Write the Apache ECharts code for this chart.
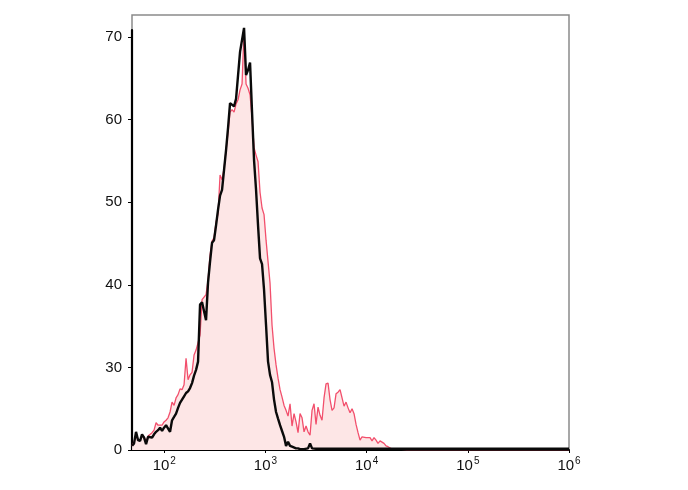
<!DOCTYPE html>
<html>
<head>
<meta charset="utf-8">
<script src="https://cdn.jsdelivr.net/npm/echarts@6/dist/echarts.min.js"></script>
<style>
html,body{margin:0;padding:0;background:#fff;}
#chart{width:688px;height:490px;}
</style>
</head>
<body>
<div id="chart"></div>
<script>
// Fluorescence intensity (log scale) bin positions
var xValues = [48.1,50.3,52.6,55.1,57.7,60.3,63.2,66.1,69.2,72.4,75.8,79.3,83.0,86.9,90.9,95.1,99.5,104.2,109.0,114.1,
  119.4,125.0,130.8,136.9,143.2,149.9,156.9,164.2,171.9,179.8,188.2,197.0,206.2,215.8,225.8,236.4,247.4,258.8,270.9,283.5,
  296.7,310.5,325.0,340.1,356.0,372.5,389.9,408.0,427.0,446.9,467.7,489.5,512.3,536.1,561.1,587.2,614.5,643.1,673.1,704.4,
  737.2,771.5,807.4,845.0,884.3,925.5,968.6,1014,1061,1110,1162,1216,1273,1332,1394,1459,1527,1598,1672,1750,
  1832,1917,2006,2100,2198,2300,2407,2519,2636,2759,2888,3022,3162,3310,3464,3625,3794,3971,4156,4349,
  4552,4764,4985,5218,5461,5715,5981,6259,6551,6856,7175,7509,7859,8225,8608,9009,9426,9865,10324,10805,
  11308,11834,12385,12960,13564,14195,14855,15547,16271,17028,17822,18651,19519,
  25000,50000,100000,200000,500000,1000000];

// Control (black outline) counts, in axis units
var controlCounts = [20.5,20.8,22.2,21.2,21.1,21.9,21.5,20.7,21.6,21.7,21.5,21.9,22.2,22.4,22.7,22.3,22.7,23.0,22.8,22.2,
  23.6,24.0,24.4,25.1,25.7,26.1,26.5,26.9,27.1,27.5,28.1,29.0,29.7,30.7,37.6,37.9,37.8,35.7,40.3,42.8,
  45.1,45.4,47.2,49.1,50.8,51.5,53.9,56.3,59.0,62.0,62.1,61.6,62.5,62.7,68.2,68.1,71.1,65.4,66.0,66.9,
  60.9,55.1,51.5,47.2,43.2,42.5,39.4,35.1,30.7,29.1,28.2,26.1,24.6,23.8,23.0,22.3,21.6,20.5,21.0,20.5,
  20.4,20.2,20.2,20.2,20.1,20.2,20.1,20.2,20.2,20.8,20.2,20.15,20.15,20.15,20.15,20.15,20.15,20.15,20.15,20.15,
  20.15,20.15,20.15,20.15,20.15,20.15,20.15,20.15,20.15,20.15,20.15,20.15,20.15,20.15,20.15,20.15,20.15,20.15,20.15,20.15,
  20.15,20.15,20.15,20.15,20.15,20.15,20.15,20.15,20.15,20.15,20.15,20.15,20.15,
  20.15,20.15,20.15,20.15,20.15,20.15];

// Stained sample (red, filled) counts, in axis units
var sampleCounts = [20.5,21.0,21.8,21.2,21.2,21.7,21.6,21.0,21.7,21.9,22.1,22.4,23.3,23.0,23.1,23.0,23.4,23.6,23.9,24.6,
  25.8,25.4,26.3,26.7,27.4,27.3,27.9,31.1,28.5,29.1,29.4,31.5,32.1,31.9,33.9,38.2,38.2,38.8,40.6,43.6,
  45.3,45.7,47.6,48.6,53.3,52.7,54.1,56.3,58.5,60.9,61.2,60.9,61.9,62.4,63.6,64.3,70.8,64.3,63.8,63.0,
  60.2,56.6,55.7,54.9,51.2,49.3,48.5,45.4,42.8,40.2,35.1,32.3,30.3,28.7,27.3,26.4,25.4,24.8,24.1,25.6,
  22.9,24.4,23.4,22.1,24.4,23.9,22.2,22.9,22.2,21.8,24.8,25.6,23.1,25.2,24.2,23.6,26.3,28.0,28.1,26.1,
  24.8,25.1,26.8,27.0,27.3,26.3,25.3,25.8,25.1,24.5,25.0,24.4,23.1,22.1,21.2,21.6,21.6,21.5,21.6,21.5,
  21.1,21.5,21.2,20.8,21.1,21.3,20.8,20.5,20.4,20.2,20.1,20.1,20.1,
  20.05,20.05,20.05,20.05,20.05,20.05];

var yTickValues = [20, 30, 40, 50, 60, 70];
var yTickLabels = ['0', '30', '40', '50', '60', '70'];

function pairs(xs, ys) {
  var out = [];
  for (var i = 0; i < xs.length; i++) out.push([xs[i], ys[i]]);
  return out;
}

var chart = echarts.init(document.getElementById('chart'), null, {renderer: 'canvas'});
var font = '"Liberation Sans", Arial, sans-serif';

chart.setOption({
  animation: false,
  backgroundColor: '#ffffff',
  grid: [
    {left: 132, right: 119, top: 15, bottom: 40, show: true, borderColor: '#8a8a8a', borderWidth: 1.5, backgroundColor: 'transparent'},
    {left: 132, right: 119, top: 30, bottom: 40, show: false}
  ],
  xAxis: [
    {
      type: 'log', logBase: 10, min: 48, max: 1000000, gridIndex: 0,
      axisLine: {show: true, lineStyle: {color: '#000', width: 2}},
      axisTick: {show: true, length: 3, lineStyle: {color: '#000'}},
      minorTick: {show: false},
      splitLine: {show: false},
      axisLabel: {
        show: true, margin: 6, showMinLabel: false, color: '#111', fontFamily: font, fontSize: 15,
        formatter: function (v) {
          var e = Math.round(Math.log10(v));
          if (Math.abs(v - Math.pow(10, e)) / v > 0.01) return '';
          return '{b|10}{s|' + e + '}';
        },
        rich: {
          b: {fontSize: 15, fontFamily: font, color: '#111'},
          s: {fontSize: 10, fontFamily: font, color: '#111', padding: [0, 0, 10, 1]}
        }
      }
    },
    {type: 'value', gridIndex: 1, show: false, min: 0, max: 1}
  ],
  yAxis: [
    {
      type: 'value', gridIndex: 0, min: 20, max: 72.66, interval: 10,
      axisLine: {show: false},
      axisTick: {show: true, length: 4, lineStyle: {color: '#000'}},
      splitLine: {show: false},
      axisLabel: {
        show: true, margin: 10, showMaxLabel: false, color: '#111', fontFamily: font, fontSize: 15,
        formatter: function (v) {
          var i = yTickValues.indexOf(Math.round(v));
          return i >= 0 ? yTickLabels[i] : '';
        }
      }
    },
    {
      type: 'value', gridIndex: 1, min: 0, max: 1,
      axisLine: {show: true, lineStyle: {color: '#000', width: 2.2}},
      axisTick: {show: false}, axisLabel: {show: false}, splitLine: {show: false}
    }
  ],
  series: [
    {
      name: 'sample', type: 'line', xAxisIndex: 0, yAxisIndex: 0,
      data: pairs(xValues, sampleCounts),
      showSymbol: false, smooth: false,
      lineStyle: {color: '#f24f6c', width: 1.3},
      areaStyle: {color: '#fde6e6', opacity: 1, origin: 'start'},
      z: 2
    },
    {
      name: 'control', type: 'line', xAxisIndex: 0, yAxisIndex: 0,
      data: pairs(xValues, controlCounts),
      showSymbol: false, smooth: false, clip: false,
      lineStyle: {color: '#0a0a0a', width: 2.4},
      z: 3
    }
  ]
});
</script>
</body>
</html>
